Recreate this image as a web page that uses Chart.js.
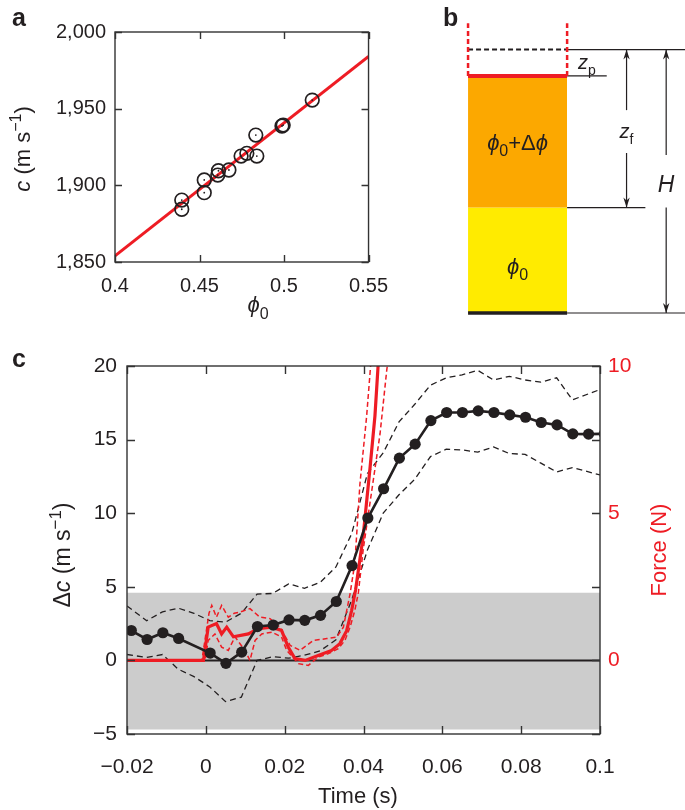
<!DOCTYPE html>
<html>
<head>
<meta charset="utf-8">
<title>Figure</title>
<script src="https://cdn.jsdelivr.net/npm/chart.js@4.4.1/dist/chart.umd.min.js"></script>
<style>
  html, body { margin:0; padding:0; background:#ffffff; }
  #fig { position:relative; width:685px; height:810px; overflow:hidden; background:#fff; }
  canvas { position:absolute; display:block; }
</style>
</head>
<body>
<div id="fig">
  <canvas id="panelA" width="400" height="330" style="left:0;top:0"></canvas>
  <canvas id="panelB" width="285" height="330" style="left:400px;top:0"></canvas>
  <canvas id="panelC" width="685" height="470" style="left:0;top:340px"></canvas>
</div>
<script>
// ================= DATA =================
// ---- Panel a: sound speed vs packing fraction ----
const phi0Values       = [0.4395, 0.4395, 0.4528, 0.4528, 0.4612, 0.4608, 0.4674, 0.4746, 0.4780, 0.4833, 0.4839, 0.4988, 0.4995, 0.5167];
const soundSpeedValues = [1890.4, 1884.4, 1903.5, 1895.2, 1909.5, 1906.7, 1910.0, 1919.1, 1920.9, 1932.8, 1919.1, 1938.7, 1939.3, 1955.6];
const fitPhi   = [0.40, 0.55];
const fitSpeed = [1854, 1984];
const phiTicks   = [0.4, 0.45, 0.5, 0.55];
const speedTicks = [1850, 1900, 1950, 2000];

// ---- Panel b: schematic column (heights as fraction of H, widths in column units) ----
const columnWalls = [0, 1];
const layerNames  = ['ϕ0', 'ϕ0+Δϕ'];
const layerBounds = [0, 0.4, 0.9];   // base, interface, piston
const fillHeight  = 1.0;             // initial filled height H
const wallTop     = 1.1;

// ---- Panel c: time series ----
const timeMean   = [-0.0189,-0.0149,-0.0109,-0.0069,0.0011,0.0051,0.0091,0.0131,0.0171,0.0211,0.0251,0.0291,0.0331,0.0371,0.0411,0.0451,0.0491,0.0531,0.0571,0.0611,0.0651,0.0691,0.0731,0.0771,0.0811,0.0851,0.0891,0.0931,0.0971,0.1011];
const deltaCMean = [2.03,1.42,1.88,1.49,0.5,-0.2,0.56,2.3,2.4,2.75,2.72,3.06,4.0,6.44,9.67,11.66,13.74,14.69,16.29,16.84,16.84,16.95,16.84,16.68,16.52,16.16,16.0,15.39,15.37,15.4];
const timeBand    = [-0.02,-0.015,-0.011,-0.007,-0.003,0.001,0.005,0.009,0.013,0.017,0.021,0.025,0.029,0.033,0.037,0.041,0.045,0.049,0.053,0.057,0.061,0.065,0.069,0.073,0.077,0.081,0.085,0.089,0.093,0.1];
const deltaCUpper = [3.7,2.7,3.3,3.55,3.2,2.7,2.6,3.2,4.5,4.55,5.2,4.9,5.3,6.35,8.6,12.7,14.1,16.2,17.4,18.7,19.2,19.4,19.7,19.05,19.3,19.05,18.9,19.2,17.7,18.4];
const deltaCLower = [0.4,0.2,0.4,-0.6,-1.1,-1.8,-2.8,-2.5,0.0,0.25,0.15,0.35,0.65,1.4,4.1,7.5,10.0,11.25,12.3,13.85,14.35,14.3,14.15,14.5,14.05,14.0,13.4,12.8,13.1,12.6];
const timeForce = [-0.02,-0.0006,0.0006,0.0027,0.004,0.0053,0.007,0.0108,0.0133,0.0167,0.0192,0.0209,0.0226,0.0252,0.0285,0.0319,0.034,0.0357,0.037,0.038,0.0399,0.0417,0.0429,0.0437,0.045];
const forceMean = [0,0,1.13,1.25,0.9,1.13,0.8,0.9,1.08,1.13,1.02,0.45,0.06,0,0.17,0.34,0.57,1.0,1.7,2.4,4.2,6.6,8.3,10,12];
const timeForceUpper = [-0.02,-0.001,0.0008,0.0015,0.0027,0.004,0.0057,0.0072,0.0087,0.0112,0.0137,0.0163,0.0188,0.0214,0.0239,0.0273,0.0307,0.0332,0.0349,0.0366,0.0378,0.0391,0.0408,0.0418,0.043];
const forceUpper     = [0,0,1.6,1.87,1.47,1.87,1.47,1.6,1.64,1.76,1.47,1.42,1.13,0.51,0.34,0.68,0.74,0.79,1.13,2.27,3.3,6.0,8.3,10,12];
const timeForceLower = [-0.02,-0.0002,0.0006,0.0023,0.004,0.0057,0.0074,0.0099,0.0112,0.0125,0.0142,0.0167,0.0192,0.0205,0.0235,0.026,0.0285,0.0311,0.0336,0.0353,0.0366,0.0378,0.0387,0.0399,0.0417,0.0442,0.0459,0.047];
const forceLower     = [0,0,0.68,0.9,0.45,0.34,0.8,0.34,0,0.68,0.9,0.96,0.8,0.34,-0.11,-0.17,0.11,0.23,0.4,0.68,1.13,1.7,2.3,3.74,5.4,7.7,9.86,11];
const noiseBand   = [-4.7, 4.6];
const timeRange   = [-0.02, 0.1];
const timeTicks   = [-0.02, 0, 0.02, 0.04, 0.06, 0.08, 0.1];
const deltaCTicks = [-5, 0, 5, 10, 15, 20];
const forceTicks  = [0, 5, 10];

// ================= STYLE / HELPERS =================
const FONT = '"Liberation Sans", Arial, Helvetica, sans-serif';
const INK = '#231f20';
const RED = '#ee1c24';
const pts = (xs, ys) => xs.map((x, i) => ({x, y: ys[i]}));
const minusFmt = v => (v < 0 ? '\u2212' : '') + String(Math.abs(v));

function drawRich(ctx, segs, size, align, color) {
  const font = s => `${s.italic ? 'italic ' : ''}${s.bold ? 'bold ' : ''}${(s.sub || s.sup) ? Math.round(size * 0.72) : size}px ${FONT}`;
  let total = 0;
  const widths = segs.map(s => { ctx.font = font(s); const w = ctx.measureText(s.t).width; total += w; return w; });
  let cx = align === 'center' ? -total / 2 : (align === 'right' ? -total : 0);
  const base = size * 0.36;
  ctx.textBaseline = 'alphabetic';
  ctx.textAlign = 'left';
  segs.forEach((s, i) => {
    ctx.font = font(s);
    ctx.fillStyle = s.color || color;
    const dy = s.sub ? size * 0.3 : (s.sup ? -size * 0.42 : 0);
    ctx.fillText(s.t, cx, base + dy);
    cx += widths[i];
  });
}

const richTextPlugin = {
  id: 'richText',
  afterDraw(chart, args, opts) {
    const ctx = chart.ctx;
    (opts.items || []).forEach(it => {
      let x = it.x, y = it.y;
      if (it.dataX !== undefined) {
        x = chart.scales.x.getPixelForValue(it.dataX);
        y = chart.scales.y.getPixelForValue(it.dataY);
      }
      ctx.save();
      ctx.translate(x, y);
      if (it.rotate) ctx.rotate(it.rotate * Math.PI / 180);
      drawRich(ctx, it.segs, it.size, it.align || 'center', it.color || INK);
      ctx.restore();
    });
  }
};

const framePlugin = {
  id: 'frame',
  afterDraw(chart, args, opts) {
    const {ctx, chartArea: a} = chart;
    ctx.save();
    ctx.strokeStyle = opts.color || INK;
    ctx.lineWidth = opts.width || 1.4;
    const len = opts.len || 8;
    ctx.beginPath();
    (opts.ticks || []).forEach(t => {
      const sc = chart.scales[t.scale];
      sc.ticks.map(k => k.value).forEach(v => {
        const p = Math.round(sc.getPixelForValue(v)) + 0.5;
        if (t.side === 'bottom') { ctx.moveTo(p, a.bottom); ctx.lineTo(p, a.bottom - len); }
        if (t.side === 'top')    { ctx.moveTo(p, a.top);    ctx.lineTo(p, a.top + len); }
        if (t.side === 'left')   { ctx.moveTo(a.left, p);   ctx.lineTo(a.left + len, p); }
        if (t.side === 'right')  { ctx.moveTo(a.right, p);  ctx.lineTo(a.right - len, p); }
      });
    });
    ctx.stroke();
    ctx.strokeRect(a.left, a.top, a.right - a.left, a.bottom - a.top);
    ctx.restore();
  }
};

const arrowPlugin = {
  id: 'arrows',
  afterDatasetsDraw(chart, args, opts) {
    const ctx = chart.ctx;
    chart.data.datasets.forEach((ds, i) => {
      if (!ds.arrowAtEnd) return;
      const el = chart.getDatasetMeta(i).data;
      const tip = el[el.length - 1], prev = el[el.length - 2];
      let dx = tip.x - prev.x, dy = tip.y - prev.y;
      const L = Math.hypot(dx, dy) || 1; dx /= L; dy /= L;
      const len = opts.length || 9, half = opts.halfWidth || 3.5;
      ctx.save();
      ctx.fillStyle = INK;
      ctx.beginPath();
      ctx.moveTo(tip.x, tip.y);
      ctx.lineTo(tip.x - dx * len - dy * half, tip.y - dy * len + dx * half);
      ctx.lineTo(tip.x - dx * len * 0.7, tip.y - dy * len * 0.7);
      ctx.lineTo(tip.x - dx * len + dy * half, tip.y - dy * len - dx * half);
      ctx.closePath();
      ctx.fill();
      ctx.restore();
    });
  }
};

const hiddenLegend = {legend: {display: false}, tooltip: {enabled: false}};
const tickFont = size => ({family: FONT, size});
const noGrid = {display: false, drawTicks: false};

// ================= PANEL A =================
new Chart(document.getElementById('panelA'), {
  type: 'scatter',
  data: {
    datasets: [
      {label: 'measured', data: pts(phi0Values, soundSpeedValues), pointRadius: 6.8, pointBorderWidth: 1.7,
       pointBorderColor: INK, pointBackgroundColor: 'rgba(0,0,0,0)', order: 1},
      {label: 'centre', data: pts(phi0Values, soundSpeedValues), pointRadius: 0.9, pointBorderWidth: 0,
       pointBackgroundColor: INK, order: 0},
      {label: 'fit', data: pts(fitPhi, fitSpeed), showLine: true, borderColor: RED, borderWidth: 3,
       pointRadius: 0, order: 2}
    ]
  },
  options: {
    responsive: false, animation: false, events: [],
    layout: {padding: {top: 32, right: 3, left: 0, bottom: 0}},
    plugins: {
      ...hiddenLegend,
      frame: {ticks: [{scale: 'x', side: 'bottom'}, {scale: 'x', side: 'top'}, {scale: 'y', side: 'left'}, {scale: 'y', side: 'right'}], len: 7, width: 1.4, color: '#333'},
      richText: {items: [
        {x: 12, y: 16.5, size: 25, align: 'left', segs: [{t: 'a', bold: true}]},
        {x: 258, y: 304, size: 22, segs: [{t: 'ϕ', italic: true}, {t: '0', sub: true}]},
        {x: 22, y: 149, size: 22, rotate: -90, segs: [{t: 'c', italic: true}, {t: ' (m s'}, {t: '\u22121', sup: true}, {t: ')'}]}
      ]}
    },
    scales: {
      x: {type: 'linear', min: 0.4, max: 0.55,
          afterBuildTicks: s => { s.ticks = phiTicks.map(v => ({value: v})); },
          afterFit: s => { s.height = 68; },
          grid: noGrid, border: {display: false},
          ticks: {padding: 12, color: INK, font: tickFont(20), maxRotation: 0, autoSkip: false, callback: v => String(v)}},
      y: {type: 'linear', min: 1850, max: 2000,
          afterBuildTicks: s => { s.ticks = speedTicks.map(v => ({value: v})); },
          afterFit: s => { s.width = 115; },
          grid: noGrid, border: {display: false},
          ticks: {padding: 9, color: INK, font: tickFont(20), autoSkip: false, callback: v => v.toLocaleString('en-US')}}
    }
  },
  plugins: [framePlugin, richTextPlugin]
});

// ================= PANEL B =================
const lineDs = (data, color, width, extra) => Object.assign({data, borderColor: color, borderWidth: width, pointRadius: 0, fill: false, tension: 0, borderCapStyle: 'butt'}, extra || {});
const xRightEdge = 2.19, zpGuideEnd = 1.40, zfGuideEnd = 1.79, zfArrowX = 1.6, hArrowX = 2.0;
new Chart(document.getElementById('panelB'), {
  type: 'line',
  data: {
    datasets: [
      lineDs(pts(columnWalls, [layerBounds[1], layerBounds[1]]), 'rgba(0,0,0,0)', 0, {label: layerNames[0], fill: 'origin', backgroundColor: '#ffeb00', order: 20}),
      lineDs(pts(columnWalls, [layerBounds[2], layerBounds[2]]), 'rgba(0,0,0,0)', 0, {label: layerNames[1], fill: {value: layerBounds[1]}, backgroundColor: '#fca800', order: 19}),
      lineDs(pts([columnWalls[0], columnWalls[0]], [layerBounds[2], wallTop]), RED, 2.5, {borderDash: [5, 3], order: 5}),
      lineDs(pts([columnWalls[1], columnWalls[1]], [layerBounds[2], wallTop]), RED, 2.5, {borderDash: [5, 3], order: 5}),
      lineDs(pts(columnWalls, [fillHeight, fillHeight]), INK, 2, {borderDash: [5, 3], order: 6}),
      lineDs(pts(columnWalls, [layerBounds[2], layerBounds[2]]), RED, 4, {order: 4}),
      lineDs(pts(columnWalls, [layerBounds[0], layerBounds[0]]), INK, 3.5, {order: 4}),
      lineDs(pts([columnWalls[1], xRightEdge], [fillHeight, fillHeight]), INK, 1.2, {order: 7}),
      lineDs(pts([columnWalls[1], zpGuideEnd], [layerBounds[2], layerBounds[2]]), INK, 1.2, {order: 7}),
      lineDs(pts([columnWalls[1], zfGuideEnd], [layerBounds[1], layerBounds[1]]), INK, 1.2, {order: 7}),
      lineDs(pts([columnWalls[1], xRightEdge], [layerBounds[0], layerBounds[0]]), INK, 1.2, {order: 7}),
      lineDs(pts([zfArrowX, zfArrowX], [0.77, fillHeight]), INK, 1.2, {arrowAtEnd: true, order: 7}),
      lineDs(pts([zfArrowX, zfArrowX], [0.607, layerBounds[1]]), INK, 1.2, {arrowAtEnd: true, order: 7}),
      lineDs(pts([hArrowX, hArrowX], [0.6, fillHeight]), INK, 1.2, {arrowAtEnd: true, order: 7}),
      lineDs(pts([hArrowX, hArrowX], [0.4, layerBounds[0]]), INK, 1.2, {arrowAtEnd: true, order: 7})
    ]
  },
  options: {
    responsive: false, animation: false, events: [],
    layout: {padding: 0},
    plugins: {
      ...hiddenLegend,
      arrows: {length: 10, halfWidth: 3.2},
      richText: {items: [
        {x: 43, y: 17.4, size: 25, align: 'left', segs: [{t: 'b', bold: true}]},
        {dataX: 0.5, dataY: (layerBounds[1] + layerBounds[2]) / 2, size: 22, segs: [{t: 'ϕ', italic: true}, {t: '0', sub: true}, {t: '+Δ'}, {t: 'ϕ', italic: true}]},
        {dataX: 0.5, dataY: 0.18, size: 22, segs: [{t: 'ϕ', italic: true}, {t: '0', sub: true}]},
        {dataX: 1.2, dataY: 0.955, size: 20, segs: [{t: 'z', italic: true}, {t: 'p', sub: true}]},
        {dataX: zfArrowX, dataY: 0.69, size: 20, segs: [{t: 'z', italic: true}, {t: 'f', sub: true}]},
        {dataX: hArrowX, dataY: 0.49, size: 23, segs: [{t: 'H', italic: true}]}
      ]}
    },
    scales: {
      x: {type: 'linear', display: false, min: -0.687, max: xRightEdge},
      y: {type: 'linear', display: false, min: -0.0645, max: 1.188}
    }
  },
  plugins: [arrowPlugin, richTextPlugin]
});

// ================= PANEL C =================
new Chart(document.getElementById('panelC'), {
  type: 'line',
  data: {
    datasets: [
      lineDs(pts(timeRange, [noiseBand[1], noiseBand[1]]), 'rgba(0,0,0,0)', 0, {label: 'noise upper', fill: '+1', backgroundColor: '#cccccc', order: 30}),
      lineDs(pts(timeRange, [noiseBand[0], noiseBand[0]]), 'rgba(0,0,0,0)', 0, {label: 'noise lower', order: 31}),
      lineDs(pts(timeRange, [0, 0]), INK, 2, {label: 'zero', order: 20}),
      lineDs(pts(timeBand, deltaCUpper), INK, 1.3, {label: 'Δc upper', borderDash: [6, 4], order: 15}),
      lineDs(pts(timeBand, deltaCLower), INK, 1.3, {label: 'Δc lower', borderDash: [6, 4], order: 15}),
      lineDs(pts(timeForceUpper, forceUpper), RED, 1.5, {label: 'Force upper', yAxisID: 'y1', borderDash: [5, 3], order: 10}),
      lineDs(pts(timeForceLower, forceLower), RED, 1.5, {label: 'Force lower', yAxisID: 'y1', borderDash: [5, 3], order: 10}),
      lineDs(pts(timeForce, forceMean), RED, 3.2, {label: 'Force', yAxisID: 'y1', order: 8}),
      lineDs(pts(timeMean, deltaCMean), INK, 2.6, {label: 'Δc', pointRadius: 5.6, pointBackgroundColor: INK, pointBorderColor: INK, pointBorderWidth: 0, order: 1})
    ]
  },
  options: {
    responsive: false, animation: false, events: [],
    layout: {padding: {top: 26, right: 0, left: 0, bottom: 0}},
    plugins: {
      ...hiddenLegend,
      frame: {ticks: [{scale: 'x', side: 'bottom'}, {scale: 'x', side: 'top'}, {scale: 'y', side: 'left'}, {scale: 'y', side: 'right'}], len: 8, width: 1.4, color: '#333'},
      richText: {items: [
        {x: 12, y: 18.4, size: 25, align: 'left', segs: [{t: 'c', bold: true}]},
        {x: 358, y: 455, size: 22, segs: [{t: 'Time (s)'}]},
        {x: 62, y: 215, size: 23, rotate: -90, segs: [{t: 'Δ'}, {t: 'c', italic: true}, {t: ' (m s'}, {t: '\u22121', sup: true}, {t: ')'}]},
        {x: 658, y: 210, size: 22, rotate: -90, color: RED, segs: [{t: 'Force (N)'}]}
      ]}
    },
    scales: {
      x: {type: 'linear', min: timeRange[0], max: timeRange[1],
          afterBuildTicks: s => { s.ticks = timeTicks.map(v => ({value: v})); },
          afterFit: s => { s.height = 76; },
          grid: noGrid, border: {display: false},
          ticks: {padding: 21, color: INK, font: tickFont(21), maxRotation: 0, autoSkip: false, callback: v => minusFmt(v)}},
      y: {type: 'linear', position: 'left', min: -5, max: 20,
          afterBuildTicks: s => { s.ticks = deltaCTicks.map(v => ({value: v})); },
          afterFit: s => { s.width = 127; },
          grid: noGrid, border: {display: false},
          ticks: {padding: 10, color: INK, font: tickFont(21), autoSkip: false, callback: v => minusFmt(v)}},
      y1: {type: 'linear', position: 'right', min: -2.5, max: 10,
          afterBuildTicks: s => { s.ticks = forceTicks.map(v => ({value: v})); },
          afterFit: s => { s.width = 85; },
          grid: noGrid, border: {display: false},
          ticks: {padding: 8, color: RED, font: tickFont(21), autoSkip: false, callback: v => minusFmt(v)}}
    }
  },
  plugins: [framePlugin, richTextPlugin]
});
</script>
</body>
</html>
